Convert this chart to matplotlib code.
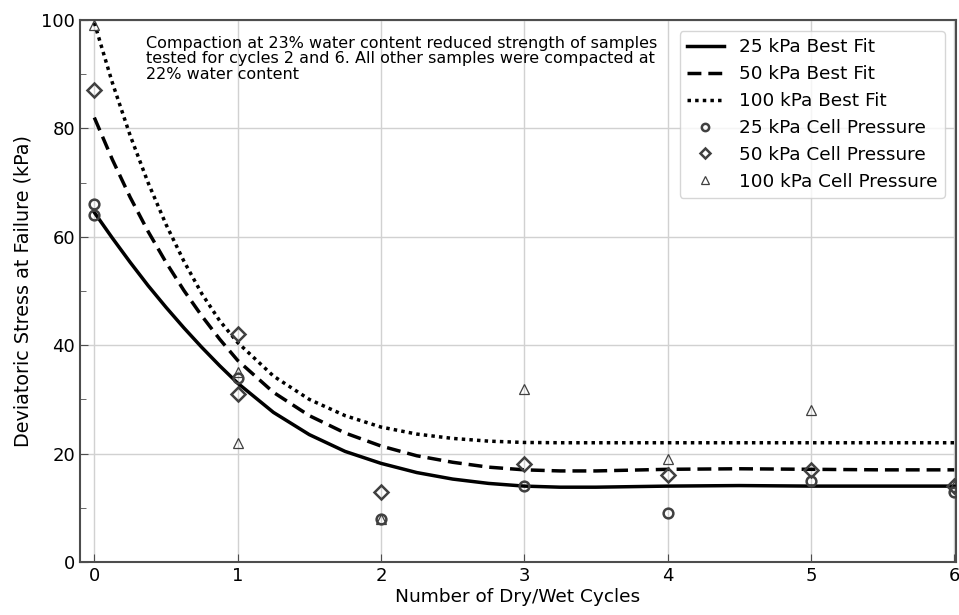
import matplotlib
matplotlib.use("Agg")
import matplotlib.pyplot as plt
import numpy as np

# measured failure stress (kPa) per cycle
cycles = [0, 0, 1, 2, 3, 4, 5, 6]
cp25 = [66, 64, 34, 8, 14, 9, 15, 13]
cycles50 = [0, 1, 1, 2, 3, 4, 5, 6]
cp50 = [87, 42, 31, 13, 18, 16, 17, 14]
cycles100 = [0, 1, 1, 2, 3, 4, 5, 6]
cp100 = [99, 35, 22, 8, 32, 19, 28, 14]

# best fit curves
fit_x = [0, 0.125, 0.25, 0.375, 0.5, 0.625, 0.75, 0.875, 1.0, 1.25, 1.5, 1.75,
         2.0, 2.25, 2.5, 2.75, 3.0, 3.25, 3.5, 4.0, 4.5, 5.0, 5.5, 6.0]
fit25 = [64.5, 59.8, 55.3, 51.0, 47.0, 43.2, 39.6, 36.2, 33.0, 27.6, 23.5, 20.4,
         18.2, 16.5, 15.3, 14.5, 14.0, 13.8, 13.8, 14.0, 14.1, 14.0, 14.0, 14.0]
fit50 = [82.0, 74.3, 67.3, 61.0, 55.3, 50.1, 45.4, 41.1, 37.2, 31.3, 27.0, 23.8,
         21.4, 19.6, 18.4, 17.5, 17.0, 16.8, 16.8, 17.1, 17.2, 17.1, 17.0, 17.0]
fit100 = [99.5, 88.5, 78.7, 70.0, 62.3, 55.5, 49.5, 44.5, 40.5, 34.3, 30.0, 27.0,
          24.9, 23.6, 22.8, 22.3, 22.05, 22.0, 22.0, 22.0, 22.0, 22.0, 22.0, 22.0]

fig, ax = plt.subplots(figsize=(9.59, 6.15), dpi=100)
fig.subplots_adjust(left=0.0834, right=0.9965, top=0.9675, bottom=0.0862)

ax.plot(fit_x, fit25, color='k', lw=2.5, ls='-', label='25 kPa Best Fit', zorder=3)
ax.plot(fit_x, fit50, color='k', lw=2.5, ls=(0, (4, 2)), label='50 kPa Best Fit', zorder=3)
ax.plot(fit_x, fit100, color='k', lw=2.5, ls=(0, (1, 1.2)), label='100 kPa Best Fit', zorder=3)

mc = '0.25'
ax.plot(cycles, cp25, ls='none', marker='o', ms=7, mfc='none', mec=mc, mew=1.8,
        label='25 kPa Cell Pressure', zorder=4)
ax.plot(cycles50, cp50, ls='none', marker='D', ms=7, mfc='none', mec=mc, mew=1.8,
        label='50 kPa Cell Pressure', zorder=4)
ax.plot(cycles100, cp100, ls='none', marker='^', ms=7, mfc='none', mec=mc, mew=0.9,
        label='100 kPa Cell Pressure', zorder=4)

ax.set_xlim(-0.1, 6.01)
ax.set_ylim(0, 100)
ax.set_xticks(range(7))
ax.set_yticks(range(0, 101, 20))
ax.set_yticks(range(10, 100, 20), minor=True)
ax.grid(True, which='major', color='0.82', lw=1)
ax.tick_params(which='both', direction='in', labelsize=13, colors='0.3', labelcolor='k')
ax.tick_params(which='major', length=6)
ax.tick_params(which='minor', length=4)
for s in ax.spines.values():
    s.set_color('0.3')
    s.set_linewidth(1.5)

ax.set_xlabel('Number of Dry/Wet Cycles', fontsize=13.3, labelpad=2)
ax.set_ylabel('Deviatoric Stress at Failure (kPa)', fontsize=13.8, labelpad=6)

ax.text(0.36, 97.0, 'Compaction at 23% water content reduced strength of samples\n'
        'tested for cycles 2 and 6. All other samples were compacted at\n'
        '22% water content', fontsize=11.5, va='top', ha='left', linespacing=1.02)

leg = ax.legend(loc='upper right', fontsize=13.3, frameon=True, handlelength=2.0,
                labelspacing=0.48, borderpad=0.4, markerscale=0.75, borderaxespad=0.6)
leg.get_frame().set_edgecolor('0.8')

fig.savefig('out.png', dpi=100)
